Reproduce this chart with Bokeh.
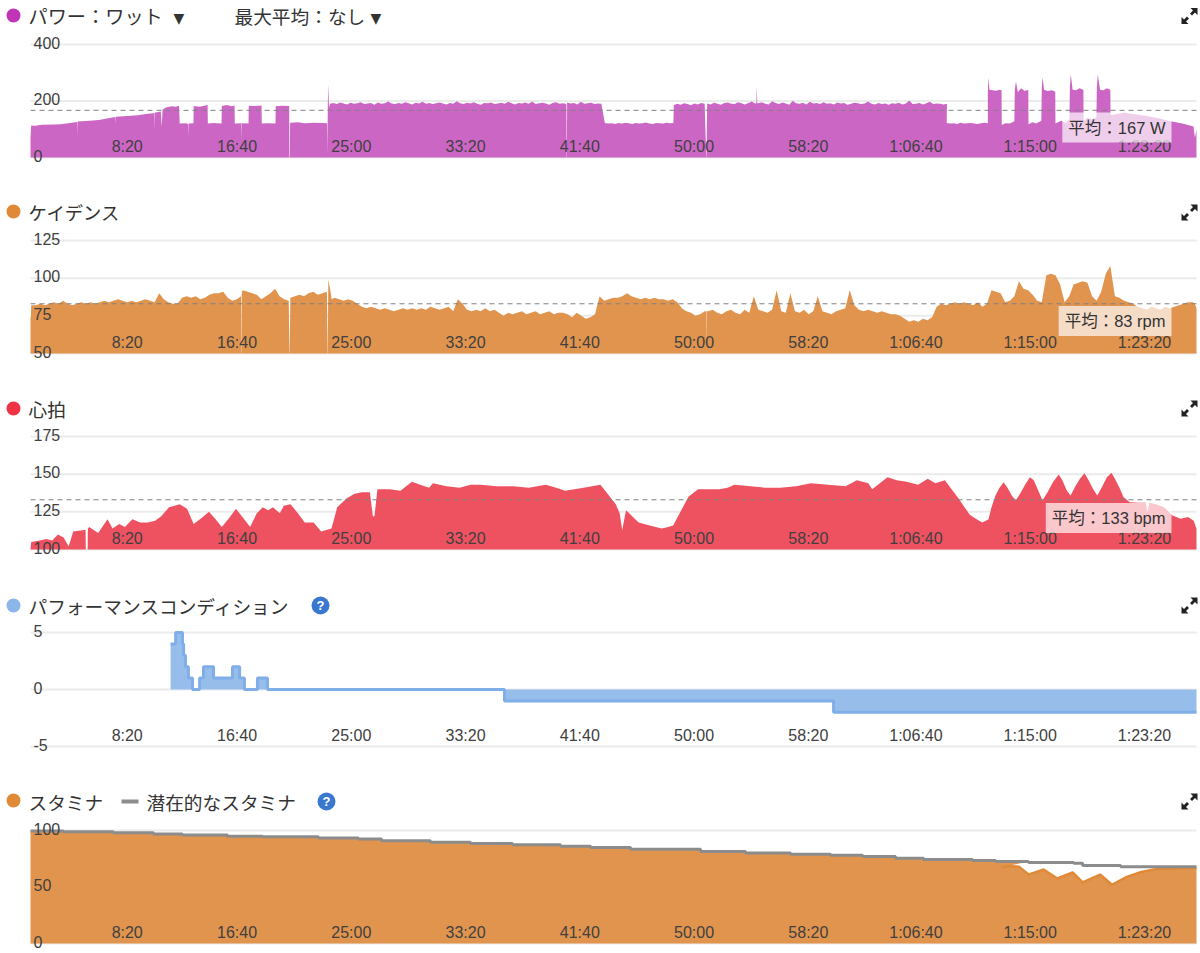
from bokeh.plotting import figure
from bokeh.layouts import column
from bokeh.models import Range1d, Label, BoxAnnotation, PolyAnnotation
from bokeh.core.properties import value
from bokeh.embed import file_html
from bokeh.resources import INLINE

# ---------- shared ----------
DURATION = 5102
TIME_TICKS = [500, 1000, 1500, 2000, 2500, 3000, 3500, 4000, 4500, 5000]
TIME_LABELS = ["8:20", "16:40", "25:00", "33:20", "41:40", "50:00", "58:20", "1:06:40", "1:15:00", "1:23:20"]

# ---------- power (W) ----------
POWER_RAMP_T = [0, 3, 20, 50, 100, 131, 165, 197, 204, 205, 206, 240, 275, 306, 340, 372, 373, 374, 405, 438, 470, 505, 538, 541, 542, 543, 570, 574, 578, 595, 620, 635, 650]
POWER_RAMP_W = [70, 113, 112, 116, 117, 118, 121, 125, 126, 80, 127, 129, 131, 134, 139, 143, 120, 144, 146, 148, 150, 154, 157, 158, 95, 158, 163, 110, 170, 178, 181, 180, 183]
POWER_INT_T = [653, 680, 691, 692, 693, 713, 714, 740, 760, 775, 776, 800, 836, 837, 860, 880, 893, 894, 923, 924, 925, 954, 955, 980, 1011, 1012, 1040, 1072, 1073, 1100, 1132, 1133, 1135, 1136, 1170, 1200, 1240, 1280, 1298, 1299, 1301, 1303, 1306]
POWER_INT_W = [120, 121, 119, 75, 120, 121, 182, 180, 183, 186, 120, 122, 120, 182, 186, 181, 184, 120, 121, 60, 121, 120, 183, 182, 184, 120, 121, 120, 181, 183, 182, 0, 0, 123, 125, 121, 123, 122, 121, 10, 190, 260, 175]
POWER_HI1 = [190,193,189,195,191,188,194,190,192,196,189,191,193,187,195,190,192,198,191,189,193,190,196,192,188,194,191,197,190,193,189,192,195,191,188,193,190,199,192,189,194,191,196,190,187,193,192,195,189,191,194,190,197,192,188,193,191,195,190,198,189,192,194,191,187,193,196,190,192,189]
POWER_HI2 = [195,191,193,188,197,190,192,194,189,191,190]
POWER_LO1 = [122,120,121,119,122,120,123,121,119,122,120,121,124,120,119,122,121,120,123,121,122]
POWER_HI3 = [186,190,187,192,189,185,191,188,193,190]
POWER_HI4 = [191,188,194,190,187,193,195,190,189,196,192,188,193,198,191]
POWER_SPIKE_T = [3176, 3178, 3180]
POWER_SPIKE_W = [192, 251, 193]
POWER_HI5 = [192,196,190,188,199,193,189,195,191,187,201,192,190,194,188,197,191,193,189,196,190,192,188,195,191,193,187,190,194,192,189,191,198,190,188,193,189,191,187,192,190,194,188,191,202,189,190,193,188,192,197,189,191,190,188,190]
POWER_LO2 = [122,120,121,119,123,120,121,122,120,119,121,123,121]
POWER_END_T = [4189,4192,4196,4210,4225,4240,4249,4250,4265,4285,4305,4307,4312,4320,4335,4350,4366,4367,4385,4400,4423,4425,4428,4435,4450,4470,4484,4485,4510,4530,4546,4548,4552,4560,4575,4590,4607,4608,4625,4645,4664,4666,4670,4680,4695,4710,4725,4726,4760,4787,4830,4870,4930,4989,5040,5089,5095,5102]
POWER_END_W = [235,283,240,238,236,240,238,115,121,120,128,240,270,232,245,235,240,118,125,120,130,245,285,240,235,238,233,120,130,122,135,250,295,240,238,245,240,130,140,135,142,245,295,240,238,245,240,150,155,158,153,149,140,128,120,110,70,100]

# ---------- cadence (rpm) ----------
CAD_A = [82,82,83,82,83,84,83,85,83,82,83,84,83,84,83,84,85,84,85,86,85,84,85,84,85,86,85,84,90,86,84,83,83,87,88,87,88,86,87,89,90,90,91,87,85,86]
CAD_DROP1_T = [0, 2, 921, 922, 923, 924, 925]
CAD_DROP1_R = [74, 74, 88, 92, 50, 50, 91]
CAD_B = [92,91,90,89,86,88,90,93,88,86,85]
CAD_C = [87,88,89,88,90,91,89,90,91]
CAD_DROP2_T = [1133, 1134, 1300, 1301, 1303, 1312, 1318]
CAD_DROP2_R = [50, 50, 50, 50, 99, 92, 86]
CAD_D = [87,86,85,86,85,83,81,80,81,80,79,80,79,78,79,80,79,80,79,80,79,81,80,79,80,81,78,86,83,79,78,79,78,80,78,79,77,75,77,76,77,78,76,77,78,76,77,78,76,77,77,76,74,77,75,73,74,76,88,85,86,87,87,88,90,88,87,86,87,86,87,86,86,85,86,84,80,78,77,75,76,78]
CAD_DROP3_T = [2957, 2958, 2959]
CAD_DROP3_R = [78, 52, 78]
CAD_E = [78,79,77,76,78,79,77,76,79,77,88,79,78,77,79,92,78,77,90,78,77,79,76,78,88,78,77,76,78,79,80,92,82,79,78,79,78,77,78,77,76,76,75,73,71,72,71,73,72,74,81,83,82,83,84,83,84,83,82,84,81,83]
CAD_F = [92,91,90,84,85,88,98,93,92,89,85,84,102,103,102,96,84,88,96,97,98,97,88,85,91,103,108,88,87,85,84,83,81,80,79,81,80,79,81,80,81,82,83,84,84]
CAD_END_T = [5095, 5102]
CAD_END_R = [83, 80]

# ---------- heart rate (bpm) ----------
HR_T = [0,3,40,70,95,120,145,167,187,234,241,242,250,251,257,296,337,359,388,413,446,480,513,545,572,606,630,653,685,714,750,781,810,837,870,899,930,961,990,1016,1040,1061,1091,1108,1138,1170,1200,1239,1272,1317,1342,1384,1418,1450,1485,1498,1505,1518,1570,1619,1669,1705,1744,1761,1820,1878,1925,1970,2040,2113,2180,2255,2300,2339,2420,2494,2561,2578,2589,2606,2661,2710,2762,2790,2812,2879,2921,3013,3050,3080,3150,3214,3281,3350,3415,3490,3566,3616,3666,3683,3750,3790,3834,3884,3926,3959,4001,4060,4110,4140]
HR_B = [100,105,106,107,106,110,108,102,112,113,113,100,100,114,115,111,120,114,117,115,120,118,118,119,122,128,129,130,127,117,121,125,120,115,121,127,121,115,124,128,126,128,124,129,130,124,118,118,112,114,128,134,137,138,138,122,122,140,140,139,145,143,141,144,142,141,143,143,142,142,141,143,141,139,141,143,130,124,113,126,118,116,114,115,116,135,140,140,141,143,142,141,141,142,144,143,142,146,144,140,148,146,145,143,147,144,146,134,123,120]
HR_TAIL_T = [4165,4192,4205,4223,4240,4258,4275,4293,4311,4330,4352,4373,4390,4410,4428,4450,4475,4499,4515,4535,4551,4572,4592,4612,4630,4650,4668,4690,4710,4730,4745,4765,4783,4810,4850,4880,4888,4896,4925,4960,4997,5032,5065,5090,5102]
HR_TAIL_B = [118,120,128,136,141,144.6,141,136,132.5,137,143,148,146,139,132.5,138,145,149.8,146,139,135.8,142,147,150.6,146,140,135.8,142,148,150.9,147,141,134.7,131.4,131,131,124.8,131,130,128,122.5,120.4,121.5,119,113.7]

# ---------- performance condition ----------
PERF_T = [613, 635, 665, 670, 678, 691, 709, 740, 757, 801, 884, 915, 936, 993, 1037, 2074, 3514, 5102]
PERF_V = [4, 5, 4, 3, 2, 1, 0, 1, 2, 1, 2, 1, 0, 1, 0, -1, -2, -2]

# ---------- stamina ----------
POTENTIAL_T = [0,144,363,538,665,862,1015,1260,1435,1536,1750,1925,2109,2319,2451,2626,2932,3129,3326,3501,3641,3785,3908,4122,4223,4367,4564,4604,4770,5102]
POTENTIAL_V = [99.6,99,98,97,96,95,94.4,93.4,92.4,91,89.5,88.5,87.5,86,85,83.5,81.5,80,79,78,77,75.5,74.3,73.5,72.6,71.7,71,69,68,68]
STAMINA_T = [4250,4280,4325,4367,4433,4493,4560,4604,4680,4732,4797,4854,4928,5102]
STAMINA_V = [67.5,68.4,68,61,65.5,57.5,63,54,61,52,59,63,66,67]

INK = "#404040"
LATIN = "Liberation Sans"
CJK = "Noto Sans CJK JP"
SEC_PER_PX = DURATION / 1166
ARROW_DX = [1, 8, 8, 5.5, 2.5, 0.5, 3.5]
ARROW_DY = [-8, -8, -1, -3.5, -0.5, -2.5, -5.5]


def seq(start, step, values):
    return [start + i * step for i in range(len(values))]


def panel(fig_top, fig_bottom, grid_top, grid_bottom, vtop, vbottom, ticks):
    """One chart band; the plot area fills the whole band, headers live above the top gridline."""
    per_px = (vtop - vbottom) / (grid_bottom - grid_top)
    p = figure(width=1200, height=fig_bottom - fig_top, output_backend="svg", toolbar_location=None,
               x_range=Range1d(-30 * SEC_PER_PX, 1170 * SEC_PER_PX),
               y_range=Range1d(vbottom - (fig_bottom - grid_bottom) * per_px, vtop + (grid_top - fig_top) * per_px),
               min_border_left=0, min_border_right=0, min_border_top=0, min_border_bottom=0,
               x_axis_type=None, y_axis_type=None, outline_line_color=None,
               background_fill_color="white", border_fill_color="white")
    p.grid.visible = False
    p.segment([0] * len(ticks), ticks, [DURATION] * len(ticks), ticks, line_color="#ebebeb", line_width=2)
    return p


def tick_labels(p, vbottom, ticks):
    p.text(TIME_TICKS, [vbottom] * len(TIME_TICKS), text=TIME_LABELS, text_align="right", text_baseline="middle",
           x_offset=-2, y_offset=-11.5, text_font=value(LATIN), text_font_size="16px", text_color=INK)
    p.text([0] * len(ticks), ticks, text=[str(t) for t in ticks], text_align="left", text_baseline="middle",
           x_offset=3, y_offset=-2, text_font=value(LATIN), text_font_size="16px", text_color=INK)


def text(p, fig_top, x, y, s, size=18.7, font=CJK, color="#333333", align="left", **kw):
    p.add_layout(Label(x=x, y=y - fig_top, x_units="canvas", y_units="canvas", text=s, text_font=font,
                       text_font_size=f"{size}px", text_color=color, text_align=align,
                       text_baseline="middle", **kw))


def dot(p, fig_top, cx, cy, color, r=7):
    p.add_layout(BoxAnnotation(left=cx - r, right=cx + r, top=cy - r - fig_top, bottom=cy + r - fig_top,
                               left_units="canvas", right_units="canvas", top_units="canvas", bottom_units="canvas",
                               fill_color=color, fill_alpha=1, line_color=None, border_radius=r))


def helpmark(p, fig_top, cx, cy):
    dot(p, fig_top, cx, cy, "#3a78d0", 9)
    text(p, fig_top, cx, cy, "?", size=13, font=LATIN, color="white", align="center", text_font_style="bold")


def expand(p, fig_top, cy, cx=1189):
    for sign in (1, -1):
        p.add_layout(PolyAnnotation(xs=[cx + sign * d for d in ARROW_DX],
                                    ys=[cy - fig_top + sign * d for d in ARROW_DY],
                                    xs_units="canvas", ys_units="canvas",
                                    fill_color="#222222", fill_alpha=1, line_color=None))


def badge(p, fig_top, right, y, s):
    text(p, fig_top, right, y, s, size=16.5, font=f"{LATIN}, {CJK}", color="#333333", align="right",
         background_fill_color="white", background_fill_alpha=0.68, padding=6)


def avg_line(p, v):
    p.line([0, DURATION], [v, v], line_color="#808080", line_width=1, line_dash="5 4")


# Power
F = 0
p1 = panel(0, 185, 44, 157, 400, 0, [0, 200, 400])
pt = POWER_RAMP_T + POWER_INT_T + seq(1310, 15, POWER_HI1) + [2346, 2347] + seq(2348, 15, POWER_HI2) + seq(2513, 15, POWER_LO1) \
    + seq(2815, 15, POWER_HI3) + [2957, 2958] + seq(2961, 15, POWER_HI4) + POWER_SPIKE_T + seq(3185, 15, POWER_HI5) \
    + seq(4009, 15, POWER_LO2) + POWER_END_T
pw = POWER_RAMP_W + POWER_INT_W + POWER_HI1 + [0, 0] + POWER_HI2 + POWER_LO1 + POWER_HI3 + [0, 0] + POWER_HI4 + POWER_SPIKE_W \
    + POWER_HI5 + POWER_LO2 + POWER_END_W
p1.varea(pt, [0] * len(pt), pw, fill_color="#cc66c4")
avg_line(p1, 167)
tick_labels(p1, 0, [0, 200, 400])
dot(p1, F, 13, 15, "#bf35b5")
text(p1, F, 28, 15, "パワー：ワット", size=19.2)
text(p1, F, 173, 17, "▼", size=14, font="DejaVu Sans")
text(p1, F, 234, 15, "最大平均：なし")
text(p1, F, 370, 17, "▼", size=14, font="DejaVu Sans")
expand(p1, F, 15.5)
badge(p1, F, 1171, 127, "平均：167 W")

# Cadence
F = 185
p2 = panel(185, 383, 240, 353, 125, 50, [50, 75, 100, 125])
ct = CAD_DROP1_T[:2] + seq(3, 20, CAD_A) + CAD_DROP1_T[2:] + seq(930, 20, CAD_B) + CAD_DROP2_T[:2] + seq(1137, 20, CAD_C) \
    + CAD_DROP2_T[2:] + seq(1330, 20, CAD_D) + CAD_DROP3_T + seq(2965, 20, CAD_E) + seq(4205, 20, CAD_F) + CAD_END_T
cv = CAD_DROP1_R[:2] + CAD_A + CAD_DROP1_R[2:] + CAD_B + CAD_DROP2_R[:2] + CAD_C + CAD_DROP2_R[2:] + CAD_D + CAD_DROP3_R + CAD_E + CAD_F + CAD_END_R
p2.varea(ct, [50] * len(ct), cv, fill_color="#e0944e")
avg_line(p2, 83)
tick_labels(p2, 50, [50, 75, 100, 125])
dot(p2, F, 13, 211, "#e08a38")
text(p2, F, 28, 211, "ケイデンス", size=18.3)
expand(p2, F, 212)
badge(p2, F, 1171, 320.5, "平均：83 rpm")

# Heart rate
F = 383
p3 = panel(383, 580, 436, 549, 175, 100, [100, 125, 150, 175])
hr_t = HR_T + HR_TAIL_T
p3.varea(hr_t, [100] * len(hr_t), HR_B + HR_TAIL_B, fill_color="#ee5260")
avg_line(p3, 133)
tick_labels(p3, 100, [100, 125, 150, 175])
dot(p3, F, 13, 408, "#ee3344")
text(p3, F, 28, 408, "心拍")
expand(p3, F, 408)
badge(p3, F, 1171, 517.5, "平均：133 bpm")

# Performance condition
F = 580
p4 = panel(580, 776, 632, 746, 5, -5, [-5, 0, 5])
p4.varea_step(PERF_T, [0] * len(PERF_T), PERF_V, step_mode="after", fill_color="#97bdeb")
p4.step(PERF_T, PERF_V, mode="after", line_color="#80aee8", line_width=3)
tick_labels(p4, -5, [-5, 0, 5])
dot(p4, F, 13, 605, "#8cb6ea")
text(p4, F, 28, 605, "パフォーマンスコンディション")
helpmark(p4, F, 320, 605)
expand(p4, F, 605)

# Stamina
F = 776
p5 = panel(776, 953, 830, 943, 100, 0, [0, 50, 100])
cut = POTENTIAL_T.index(4223) + 1
st_t, st_v = [], []
for i in range(cut):
    st_t += [POTENTIAL_T[i], POTENTIAL_T[i + 1]]
    st_v += [POTENTIAL_V[i], POTENTIAL_V[i]]
st_t += STAMINA_T
st_v += STAMINA_V
p5.varea(st_t, [0] * len(st_t), st_v, fill_color="#e0944e")
p5.line(STAMINA_T, STAMINA_V, line_color="#e08a38", line_width=2.5)
p5.step(POTENTIAL_T, POTENTIAL_V, mode="after", line_color="#8c8c8c", line_width=3)
tick_labels(p5, 0, [0, 50, 100])
dot(p5, F, 13, 800, "#e08a38")
text(p5, F, 28, 801, "スタミナ")
p5.add_layout(BoxAnnotation(left=121, right=138, top=799 - F, bottom=803 - F, left_units="canvas", right_units="canvas",
                            top_units="canvas", bottom_units="canvas", fill_color="#8c8c8c", fill_alpha=1, line_color=None))
text(p5, F, 146, 801, "潜在的なスタミナ")
helpmark(p5, F, 326, 801)
expand(p5, F, 801)

page = column(p1, p2, p3, p4, p5, spacing=0, styles={"position": "absolute", "left": "0px", "top": "0px"})
open("out.html", "w").write(file_html(page, INLINE))
